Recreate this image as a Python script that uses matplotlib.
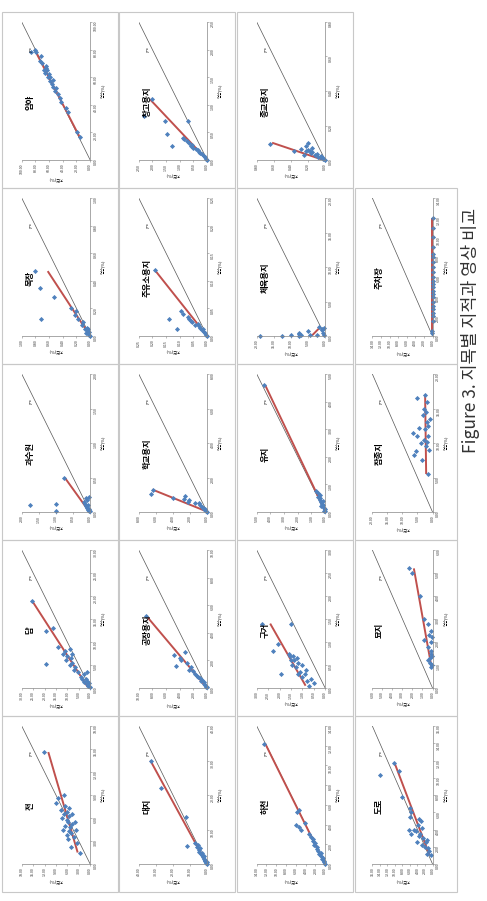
import matplotlib
matplotlib.use("Agg")
import matplotlib.pyplot as plt
from matplotlib.patches import Rectangle
from matplotlib.ticker import MultipleLocator, FormatStrFormatter

plt.rcParams['font.family'] = ['Noto Sans CJK KR', 'DejaVu Sans']

# page order (rows of the original landscape page), left to right
categories = ['전', '답', '과수원', '목장', '임야',
              '대지', '공장용지', '학교용지', '주유소용지', '창고용지',
              '하천', '구거', '유지', '체육용지', '종교용지',
              '도로', '묘지', '잡종지', '주차장']
axis_max = [18, 30, 2, 1, 100, 40, 10, 8, 0.25, 2.5, 14, 3, 5, 20, 0.8, 16, 6, 20, 14]
tick_step = [3, 5, 0.5, 0.2, 20, 10, 2, 2, 0.05, 0.5, 2, 0.5, 1, 5, 0.2, 2, 1, 5, 2]
# linear trendline (slope, intercept)
trend_slope = [0.59, 1.3, 1.45, 1.32, 1.04, 1.1, 1.7, 5.0, 1.6, 1.9,
               1.0, 1.15, 0.96, -2.0, 6.0, 0.87, 0.41, 0.03, 0.0]
trend_icpt = [2.4, 0.8, 0.02, 0.0, -2.0, 0.2, 0.0, -0.1, 0.0, 0.0,
              0.05, 0.8, -0.03, 4.0, 0.02, -0.1, -0.27, 1.95, 0.01]

# x = 영상(%), y = 지적(%)
jeon_x = [1.5, 2.2, 2.8, 3.2, 3.5, 3.8, 4.0, 4.3, 4.5, 4.8, 5.0, 5.2, 5.5, 5.8, 6.0, 6.2, 6.5, 6.8, 7.0, 7.3, 7.6, 8.0, 8.6, 9.0, 5.5, 4.5, 6.5, 14.6]
jeon_y = [2.8, 5.0, 3.5, 5.8, 4.2, 6.0, 5.0, 5.5, 7.2, 5.3, 6.5, 4.8, 5.8, 6.2, 7.5, 5.6, 6.8, 6.0, 7.8, 5.5, 6.5, 9.0, 8.5, 7.0, 4.0, 3.8, 4.8, 12.2]
dap_x = [0.3, 0.5, 0.8, 1.0, 1.2, 1.5, 2.0, 2.0, 2.5, 3.0, 3.5, 3.5, 4.0, 4.5, 5.0, 5.5, 6.0, 6.5, 7.0, 7.5, 7.5, 8.0, 8.5, 9.0, 12.3, 13.0, 19.0, 5.2]
dap_y = [0.2, 0.8, 1.5, 0.5, 2.5, 1.2, 3.5, 1.8, 4.0, 2.8, 5.5, 1.5, 7.0, 6.5, 9.0, 8.0, 10.5, 8.5, 10.2, 12.0, 7.8, 11.0, 8.8, 14.0, 19.5, 16.5, 25.5, 19.5]
orchard_x = [0.01, 0.02, 0.03, 0.05, 0.06, 0.08, 0.1, 0.12, 0.15, 0.18, 0.2, 0.22, 0.5, 0.1, 0.02, 0.12]
orchard_y = [0.0, 0.03, 0.05, 0.02, 0.08, 0.12, 0.05, 0.15, 0.18, 0.1, 0.12, 0.02, 0.75, 1.75, 1.0, 1.0]
ranch_x = [0.0, 0.01, 0.02, 0.03, 0.04, 0.05, 0.06, 0.08, 0.1, 0.12, 0.15, 0.18, 0.2, 0.12, 0.28, 0.35, 0.47, 0.02, 0.05]
ranch_y = [0.0, 0.01, 0.03, 0.02, 0.05, 0.08, 0.04, 0.12, 0.1, 0.18, 0.22, 0.2, 0.28, 0.72, 0.53, 0.73, 0.8, 0.06, 0.03]
forest_x = [17, 20, 35, 38, 42, 45, 48, 50, 52, 53, 55, 57, 58, 60, 60, 62, 63, 65, 65, 67, 68, 70, 72, 75, 78, 80, 78]
forest_y = [15, 19, 33, 36, 43, 44, 47, 52, 50, 55, 56, 58, 54, 58, 62, 60, 66, 63, 68, 65, 64, 70, 73, 72, 79, 81, 86]
site_x = [0.1, 0.3, 0.5, 0.8, 1.0, 1.3, 1.5, 2.0, 2.2, 2.5, 3.0, 3.3, 3.5, 4.0, 4.5, 5.0, 5.5, 6.0, 5.2, 13.5, 22.0, 30.0]
site_y = [0.1, 0.5, 0.3, 1.0, 1.5, 1.2, 2.0, 2.5, 1.8, 3.2, 3.5, 2.8, 4.5, 5.0, 4.2, 6.0, 5.5, 7.0, 12.0, 12.5, 27.0, 33.0]
factory_x = [0.05, 0.1, 0.2, 0.3, 0.4, 0.5, 0.6, 0.8, 1.0, 1.2, 1.3, 1.5, 1.8, 2.0, 2.2, 2.6, 1.6, 2.4, 5.2, 0.7, 0.9]
factory_y = [0.05, 0.15, 0.3, 0.5, 0.4, 0.9, 0.7, 1.3, 1.8, 2.0, 2.6, 2.4, 3.0, 3.8, 3.9, 3.3, 4.6, 4.8, 9.0, 1.1, 1.5]
school_x = [0.02, 0.05, 0.1, 0.15, 0.2, 0.25, 0.3, 0.4, 0.5, 0.6, 0.7, 0.75, 0.8, 0.9, 1.05, 1.3, 0.55]
school_y = [0.02, 0.1, 0.2, 0.35, 0.25, 0.5, 0.6, 0.8, 1.0, 2.2, 2.1, 2.7, 4.0, 2.6, 6.6, 6.3, 1.4]
gas_x = [0.0, 0.002, 0.005, 0.008, 0.01, 0.012, 0.015, 0.018, 0.02, 0.022, 0.025, 0.028, 0.03, 0.035, 0.04, 0.045, 0.013, 0.03, 0.12]
gas_y = [0.0, 0.004, 0.008, 0.012, 0.02, 0.015, 0.025, 0.03, 0.045, 0.035, 0.055, 0.06, 0.065, 0.07, 0.09, 0.095, 0.11, 0.14, 0.19]
storage_x = [0.0, 0.02, 0.05, 0.08, 0.1, 0.12, 0.15, 0.18, 0.2, 0.22, 0.25, 0.28, 0.3, 0.35, 0.38, 0.4, 0.7, 0.25, 0.47, 0.7, 0.8, 1.1]
storage_y = [0.0, 0.03, 0.08, 0.12, 0.2, 0.25, 0.28, 0.35, 0.42, 0.5, 0.6, 0.55, 0.65, 0.75, 0.85, 0.9, 0.7, 1.3, 1.45, 1.55, 2.3, 2.0]
river_x = [0.05, 0.2, 0.3, 0.5, 0.6, 0.8, 1.0, 1.1, 1.3, 1.5, 1.7, 1.9, 2.1, 2.3, 2.5, 2.7, 3.0, 3.5, 3.8, 4.0, 4.2, 5.3, 5.5, 12.2]
river_y = [0.05, 0.3, 0.2, 0.6, 0.5, 0.9, 1.2, 0.9, 1.5, 1.7, 1.6, 2.2, 2.0, 2.5, 2.4, 2.9, 3.3, 5.0, 5.3, 5.9, 4.2, 5.8, 5.4, 12.6]
ditch_x = [0.05, 0.1, 0.15, 0.2, 0.25, 0.3, 0.3, 0.35, 0.4, 0.45, 0.5, 0.5, 0.55, 0.6, 0.6, 0.65, 0.7, 0.7, 0.75, 0.3, 0.8, 0.95, 1.4, 1.4]
ditch_y = [0.7, 0.5, 0.8, 0.6, 1.0, 0.9, 1.2, 1.1, 0.85, 1.3, 1.0, 1.45, 1.2, 1.5, 1.35, 1.25, 1.55, 1.4, 1.6, 1.95, 2.3, 2.05, 1.5, 2.75]
pond_x = [0.02, 0.05, 0.1, 0.15, 0.2, 0.25, 0.3, 0.35, 0.4, 0.45, 0.5, 0.55, 0.6, 0.7, 0.75, 4.6]
pond_y = [0.0, 0.05, 0.02, 0.1, 0.3, 0.15, 0.2, 0.3, 0.15, 0.4, 0.35, 0.5, 0.4, 0.55, 0.7, 4.45]
sports_x = [0.0, 0.05, 0.1, 0.05, 0.1, 0.3, 0.5, 0.7, 0.2, 1.0, 1.3, 0.5, 0.2, 0.8, 1.2, 0.1]
sports_y = [19.0, 12.5, 10.0, 7.5, 7.0, 7.5, 7.5, 5.0, 4.5, 0.8, 1.7, 0.5, 0.2, 1.0, 0.3, 2.5]
religion_x = [0.0, 0.005, 0.01, 0.015, 0.02, 0.025, 0.03, 0.035, 0.04, 0.045, 0.05, 0.055, 0.06, 0.07, 0.08, 0.1, 0.05, 0.09, 0.03, 0.065]
religion_y = [0.0, 0.02, 0.03, 0.06, 0.08, 0.05, 0.12, 0.1, 0.17, 0.15, 0.18, 0.22, 0.2, 0.15, 0.22, 0.2, 0.37, 0.65, 0.25, 0.28]
road_x = [1.0, 1.2, 1.5, 1.8, 2.0, 2.2, 2.5, 2.8, 3.0, 3.2, 3.5, 3.8, 4.0, 4.2, 4.5, 5.0, 5.2, 5.5, 6.0, 6.5, 2.5, 3.5, 4.0, 7.8, 10.3, 10.8, 11.7]
road_y = [0.3, 1.5, 1.0, 1.2, 2.0, 2.8, 1.8, 1.5, 2.5, 3.5, 3.2, 4.5, 4.8, 2.8, 3.8, 3.0, 3.5, 6.0, 5.8, 6.0, 4.0, 5.8, 6.2, 8.0, 14.0, 8.8, 10.2]
grave_x = [0.9, 1.0, 1.1, 1.2, 1.3, 1.5, 1.6, 1.8, 2.0, 2.1, 2.3, 2.5, 2.8, 3.0, 4.0, 5.0, 5.2, 1.4, 2.2]
grave_y = [0.2, 0.1, 0.3, 0.5, 0.3, 0.2, 0.15, 0.5, 0.2, 0.8, 0.4, 0.2, 0.5, 0.8, 1.2, 2.0, 2.3, 0.1, 0.1]
misc_x = [5.5, 7.5, 8.3, 8.8, 9.0, 9.5, 10.0, 10.5, 11.0, 11.0, 11.5, 12.0, 12.2, 13.0, 13.5, 14.0, 14.5, 15.0, 16.0, 16.5, 17.0, 10.2, 12.5]
misc_y = [1.5, 3.5, 6.0, 5.5, 1.2, 2.2, 3.8, 2.8, 5.0, 1.5, 6.5, 2.5, 4.5, 1.8, 1.0, 3.0, 2.2, 2.8, 1.8, 5.0, 2.5, 2.0, 1.6]
parking_x = [0.3, 0.5, 1.5, 2.0, 2.3, 2.7, 3.0, 3.5, 4.0, 4.3, 4.6, 5.0, 5.3, 5.6, 6.0, 6.5, 7.0, 7.5, 8.0, 8.3, 9.0, 10.0, 11.0, 12.0]
parking_y = [0.05, 0.2, 0, 0, 0, 0, 0, 0, 0, 0, 0, 0, 0, 0, 0, 0, 0, 0, 0, 0, 0, 0, 0, 0]

series = [(jeon_x, jeon_y), (dap_x, dap_y), (orchard_x, orchard_y), (ranch_x, ranch_y), (forest_x, forest_y),
          (site_x, site_y), (factory_x, factory_y), (school_x, school_y), (gas_x, gas_y), (storage_x, storage_y),
          (river_x, river_y), (ditch_x, ditch_y), (pond_x, pond_y), (sports_x, sports_y), (religion_x, religion_y),
          (road_x, road_y), (grave_x, grave_y), (misc_x, misc_y), (parking_x, parking_y)]

W, H = 487, 901
fig = plt.figure(figsize=(W / 100, H / 100), dpi=100)

# the page is turned 90 degrees: page rows become picture columns
col_left = [2, 119, 237, 355]
col_width = [116, 116, 116, 102]
row_top = [12, 188, 364, 540, 716]
PH = 176

def fx(px):
    return px / W

def fy(py):
    return 1 - py / H

grey = '#868686'
for i, cat in enumerate(categories):
    prow, pcol = divmod(i, 5)
    x0 = col_left[prow]
    pw = col_width[prow]
    y0 = row_top[4 - pcol]
    fig.add_artist(Rectangle((fx(x0), fy(y0 + PH)), pw / W, PH / H, transform=fig.transFigure,
                             fill=False, ec='#c8c8c8', lw=0.8))
    ax = fig.add_axes([fx(x0 + 0.17 * pw), fy(y0 + 148), 0.59 * pw / W, 138 / H])
    m = axis_max[i]
    xs, ys = series[i]
    # horizontal axis of the picture = 지적, vertical = 영상
    ax.plot([0, m], [0, m], color='#555555', lw=0.5)
    lo, hi = min(xs), max(xs)
    ax.plot([trend_slope[i] * lo + trend_icpt[i], trend_slope[i] * hi + trend_icpt[i]], [lo, hi],
            color='#c0504d', lw=1.4, solid_capstyle='butt')
    ax.plot(ys, xs, 'D', color='#4f81bd', ms=2.6, mew=0, clip_on=False)
    ax.text(0.86 * m, 0.8 * m, 'y=x', rotation=90, fontsize=2.6, ha='center', va='center')
    ax.set_xlim(m, 0)
    ax.set_ylim(0, m)
    ax.xaxis.set_major_locator(MultipleLocator(tick_step[i]))
    ax.yaxis.set_major_locator(MultipleLocator(tick_step[i]))
    ax.xaxis.set_major_formatter(FormatStrFormatter('%.2f'))
    ax.yaxis.set_major_formatter(FormatStrFormatter('%.2f'))
    ax.yaxis.tick_right()
    ax.yaxis.set_label_position('right')
    for s in ['left', 'top']:
        ax.spines[s].set_visible(False)
    for s in ['right', 'bottom']:
        ax.spines[s].set_color(grey)
        ax.spines[s].set_linewidth(0.5)
    ax.tick_params(axis='both', labelrotation=90, labelsize=2.6, length=1.5, width=0.4,
                   pad=1.2, color=grey, labelcolor='#333333')
    ax.set_xlabel('지적(%)', fontsize=3, rotation=180, labelpad=1.5)
    ax.set_ylabel('영상(%)', fontsize=3, rotation=90, labelpad=2)
    ax.patch.set_alpha(0)
    fig.text(fx(x0 + 0.24 * pw), fy(y0 + 90), cat, rotation=90, fontsize=6, fontweight='bold',
             ha='center', va='center')

fig.text(fx(471), fy(330), 'Figure 3. 지목별 지적과 영상 비교', rotation=90, fontsize=12.5,
         fontweight='light', ha='center', va='center', color='#333333')

fig.savefig('out.png', dpi=100)
